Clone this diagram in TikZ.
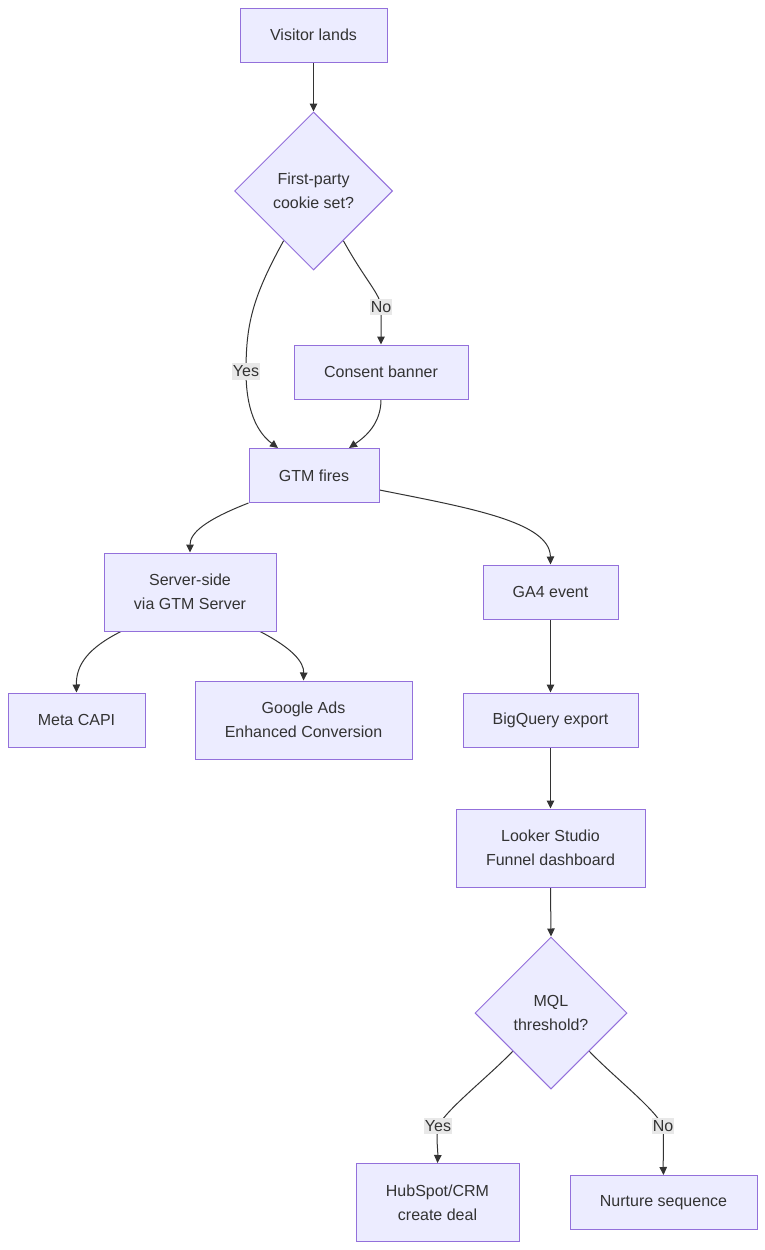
\documentclass[tikz,border=0pt]{standalone}
\usepackage{fontspec}
\setmainfont{Liberation Sans}
\usetikzlibrary{shapes.geometric,arrows.meta,calc}
\definecolor{nfill}{HTML}{ECECFF}
\definecolor{nborder}{HTML}{9370DB}
\definecolor{ntext}{HTML}{333333}
\definecolor{lblbg}{HTML}{E8E8E8}
\pgfdeclarelayer{bg}
\pgfdeclarelayer{paper}
\pgfsetlayers{paper,bg,main}
\begin{document}
\begin{tikzpicture}[x=1pt,y=-1pt,
  box/.style={draw=nborder, fill=nfill, line width=1pt, text=ntext,
    font=\fontsize{16}{24}\selectfont, align=center, inner sep=0pt},
  dia/.style={diamond, aspect=1, draw=nborder, fill=nfill, line width=1pt, text=ntext,
    font=\fontsize{16}{24}\selectfont, align=center, inner sep=0pt},
  lbl/.style={fill=lblbg, text=ntext, font=\fontsize{16}{19}\selectfont,
    inner xsep=1pt, inner ysep=2.5pt},
  link/.style={draw=ntext, line width=1pt, -{Triangle[length=8pt,width=7.5pt]}}]
\begin{pgfonlayer}{paper}
\fill[white] (0,0) rectangle (765,1250);
\end{pgfonlayer}
\useasboundingbox (0,0) rectangle (765,1250);

\node[box, minimum width=147pt, minimum height=54pt] (visit) at (313.5,35) {Visitor lands};
\node[dia, minimum width=158pt, minimum height=158pt] (cookie) at (313.5,191) {First-party\\cookie set?};
\node[box, minimum width=174pt, minimum height=54pt] (consent) at (381,372) {Consent banner};
\node[box, minimum width=130pt, minimum height=54pt] (gtm) at (314,475.5) {GTM fires};
\node[box, minimum width=172pt, minimum height=78pt] (server) at (190,592) {Server-side\\via GTM Server};
\node[box, minimum width=135pt, minimum height=54pt] (ga4) at (550.5,592) {GA4 event};
\node[box, minimum width=137pt, minimum height=54pt] (meta) at (76.5,720) {Meta CAPI};
\node[box, minimum width=217pt, minimum height=78pt] (gads) at (303.5,720) {Google Ads\\Enhanced Conversion};
\node[box, minimum width=175pt, minimum height=54pt] (bq) at (550.5,720) {BigQuery export};
\node[box, minimum width=189pt, minimum height=78pt] (looker) at (550.5,848) {Looker Studio\\Funnel dashboard};
\node[dia, minimum width=152pt, minimum height=152pt] (mql) at (551,1013) {MQL\\threshold?};
\node[box, minimum width=163pt, minimum height=78pt] (hub) at (437.5,1202.5) {HubSpot/CRM\\create deal};
\node[box, minimum width=187pt, minimum height=54pt] (nurture) at (663.5,1202.5) {Nurture sequence};

\node[lbl] (lno1) at (381,307) {No};
\node[lbl] (lyes1) at (246,371.5) {Yes};
\node[lbl] (lyes2) at (438,1126) {Yes};
\node[lbl] (lno2) at (663,1126) {No};

\begin{pgfonlayer}{bg}
\draw[link] (visit.south) -- (cookie.north);
\draw[link] (cookie.-121) .. controls (252,298) and (246,325) .. (lyes1.center)
  .. controls (246,418) and (262,436) .. ([xshift=-36pt]gtm.north);
\draw[link] (cookie.-59) .. controls (365,280) and (381,295) .. (lno1.center)
  -- (consent.north);
\draw[link] (consent.south) .. controls (381,424) and (365,437) .. ([xshift=35pt]gtm.north);
\draw[link] (gtm.south west) .. controls (205,520) and (190,533) .. (server.north);
\draw[link] ([yshift=-14.5pt]gtm.east) .. controls (470,508) and (550,522) .. (ga4.north);
\draw[link] ([xshift=-69pt]server.south) .. controls (88,648) and (76,665) .. (meta.north);
\draw[link] ([xshift=70pt]server.south) .. controls (292,648) and (304,662) .. (gads.north);
\draw[link] (ga4.south) -- (bq.north);
\draw[link] (bq.south) -- (looker.north);
\draw[link] (looker.south) -- (mql.north);
\draw[link] (mql.-135) .. controls (488,1077) and (448,1108) .. (lyes2.center)
  .. controls (436,1140) and (438,1150) .. (hub.north);
\draw[link] (mql.-45) .. controls (614,1077) and (654,1108) .. (lno2.center)
  .. controls (664,1145) and (663,1160) .. (nurture.north);
\end{pgfonlayer}
\end{tikzpicture}
\end{document}
